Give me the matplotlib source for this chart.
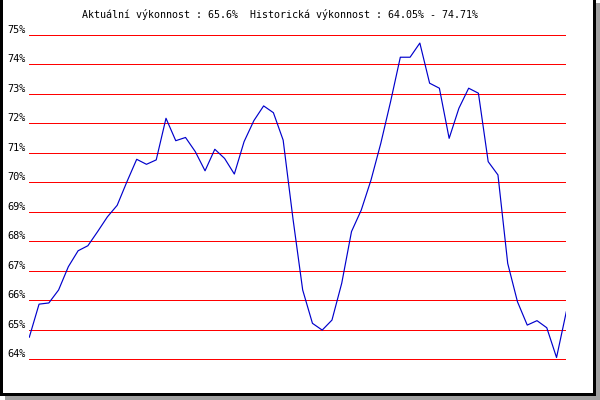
import matplotlib
matplotlib.use('Agg')
import matplotlib.pyplot as plt
from matplotlib.patches import Rectangle
import matplotlib.transforms as mtransforms

# hodnoty vykonnosti (%)
values = [64.74, 65.86, 65.90, 66.34, 67.13, 67.67, 67.84, 68.32, 68.82, 69.21,
          70.01, 70.77, 70.60, 70.75, 72.16, 71.40, 71.51, 71.03, 70.38, 71.11,
          70.80, 70.27, 71.37, 72.08, 72.58, 72.35, 71.42, 68.77, 66.34, 65.21,
          64.98, 65.32, 66.57, 68.32, 69.05, 70.07, 71.31, 72.72, 74.23, 74.23,
          74.71, 73.35, 73.18, 71.48, 72.50, 73.18, 73.01, 70.69, 70.24, 67.24,
          65.94, 65.15, 65.30, 65.06, 64.05, 65.60]
levels = [75, 74, 73, 72, 71, 70, 69, 68, 67, 66, 65, 64]
level_labels = ['75%', '74%', '73%', '72%', '71%', '70%', '69%', '68%', '67%', '66%', '65%', '64%']
title = 'Aktuální výkonnost : 65.6%  Historická výkonnost : 64.05% - 74.71%'

fig = plt.figure(figsize=(6, 4), dpi=100)
fig.patch.set_facecolor('white')

ax = fig.add_axes([29.3 / 600, 0.0656, 537 / 600, 0.885])
ax.set_xlim(0, len(values) - 1)
ax.set_ylim(63.5, 75.5)
ax.axis('off')

trans = mtransforms.blended_transform_factory(ax.transAxes, ax.transData)
for lv, lab in zip(levels, level_labels):
    ax.axhline(lv, color='#ff0000', lw=0.72, antialiased=False)
    ax.text(-0.006, lv + 0.06, lab, transform=trans, ha='right', va='baseline',
            family='DejaVu Sans Mono', fontsize=7.4, color='black')

ax.plot(range(len(values)), values, color='#0000cc', lw=0.85)

fig.text(280 / 600, 1 - 14 / 400, title, ha='center', va='center',
         family='DejaVu Sans Mono', fontsize=7.2, color='black')

# ramecek se stinem
W, H = 600.0, 400.0
def box(x, y, w, h, c):
    fig.patches.append(Rectangle((x / W, 1 - (y + h) / H), w / W, h / H,
                                 transform=fig.transFigure, color=c, lw=0))
box(0, 0, 3, 396, 'black')
box(0, 393, 596, 3, 'black')
box(593, 0, 3, 396, 'black')
box(5, 396, 595, 4, '#a0a0a0')
box(596, 3, 4, 397, '#a0a0a0')

fig.savefig('out.png', dpi=100)
